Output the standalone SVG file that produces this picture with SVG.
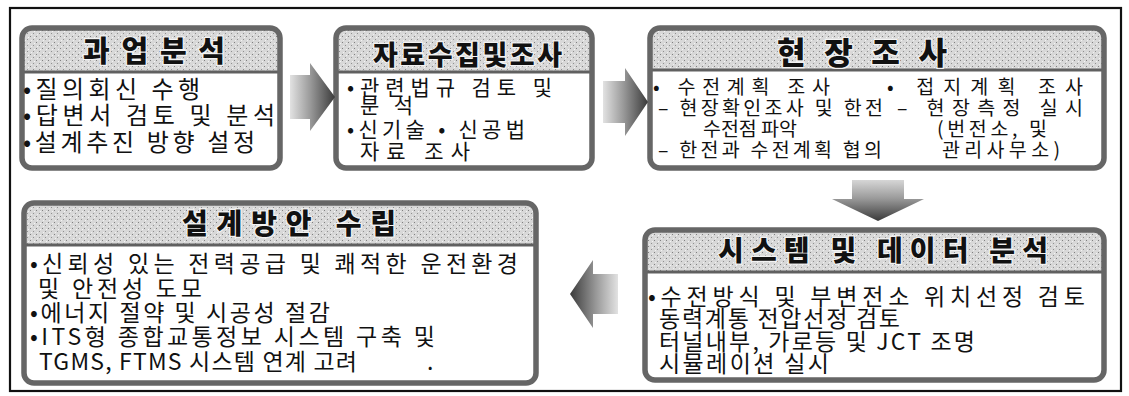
<svg xmlns="http://www.w3.org/2000/svg" width="1129" height="396" viewBox="0 0 1129 396">
<defs>
<pattern id="tex" width="6" height="6" patternUnits="userSpaceOnUse">
<rect width="6" height="6" fill="#d8d8d8"/>
<rect x="0" y="0" width="1" height="1" fill="#808080"/>
<rect x="3" y="3" width="1" height="1" fill="#909090"/>
<rect x="4" y="1" width="1" height="1" fill="#f4f4f4"/>
<rect x="1" y="4" width="1" height="1" fill="#f0f0f0"/>
</pattern>
<linearGradient id="gR" x1="0" y1="0" x2="1" y2="0">
<stop offset="0" stop-color="#e2e2e2"/><stop offset="0.45" stop-color="#9a9a9a"/><stop offset="1" stop-color="#3a3a3a"/>
</linearGradient>
<linearGradient id="gL" x1="1" y1="0" x2="0" y2="0">
<stop offset="0" stop-color="#e2e2e2"/><stop offset="0.45" stop-color="#9a9a9a"/><stop offset="1" stop-color="#3a3a3a"/>
</linearGradient>
<linearGradient id="gD" x1="0" y1="0" x2="0" y2="1">
<stop offset="0" stop-color="#d6d6d6"/><stop offset="0.45" stop-color="#9a9a9a"/><stop offset="1" stop-color="#3a3a3a"/>
</linearGradient>
</defs>
<style>
.frame{fill:none;stroke:#111;stroke-width:2.2}
.box{fill:#fff}
.bord{fill:none;stroke:#666;stroke-width:5.5}
.band{fill:url(#tex)}
.sep{stroke:#606060;stroke-width:3}
.t{font-family:"Noto Sans CJK KR","Noto Sans",sans-serif;font-weight:900;fill:#111;stroke:#f2f2f2;stroke-width:2.5;paint-order:stroke}
.b{font-family:"Noto Sans CJK KR","Noto Sans",sans-serif;font-weight:400;fill:#111}
</style>
<rect id="frame" class="frame" x="10" y="8" width="1111" height="383"/>

<g id="n1">
<rect class="box" x="22" y="28" width="258" height="140" rx="10"/>
<path class="band" d="M22,72 V38 Q22,28 32,28 H270 Q280,28 280,38 V72 Z"/>
<line class="sep" x1="22" y1="72" x2="280" y2="72"/>
<rect class="bord" x="22" y="28" width="258" height="140" rx="10"/>
<text class="t" x="83" y="62" font-size="29" textLength="142" lengthAdjust="spacing">과업분석</text>
<text class="b" font-size="24" x="23" y="98" textLength="177" lengthAdjust="spacing">•질의회신 수행</text>
<text class="b" font-size="24" x="23" y="124" textLength="252" lengthAdjust="spacing">•답변서 검토 및 분석</text>
<text class="b" font-size="24" x="23" y="151" textLength="232" lengthAdjust="spacing">•설계추진 방향 설정</text>
</g>

<g id="n2">
<rect class="box" x="336" y="28" width="256" height="140" rx="10"/>
<path class="band" d="M336,72 V38 Q336,28 346,28 H582 Q592,28 592,38 V72 Z"/>
<line class="sep" x1="336" y1="72" x2="592" y2="72"/>
<rect class="bord" x="336" y="28" width="256" height="140" rx="10"/>
<text class="t" x="373" y="65" font-size="27" textLength="189" lengthAdjust="spacing">자료수집및조사</text>
<text class="b" font-size="21" x="347" y="95" textLength="205" lengthAdjust="spacing">•관련법규 검토 및</text>
<text class="b" font-size="21" x="360" y="113" textLength="53" lengthAdjust="spacing">분석</text>
<text class="b" font-size="21" x="347" y="137" textLength="178" lengthAdjust="spacing">•신기술 • 신공법</text>
<text class="b" font-size="21" x="360" y="159" textLength="110" lengthAdjust="spacing">자료 조사</text>
</g>

<g id="n3">
<rect class="box" x="650" y="28" width="454" height="140" rx="10"/>
<path class="band" d="M650,70 V38 Q650,28 660,28 H1094 Q1104,28 1104,38 V70 Z"/>
<line class="sep" x1="650" y1="70" x2="1104" y2="70"/>
<rect class="bord" x="650" y="28" width="454" height="140" rx="10"/>
<text class="t" x="777" y="64" font-size="31" textLength="170" lengthAdjust="spacing">현장조사</text>
<text class="b" font-size="19.5" x="653" y="94" textLength="177" lengthAdjust="spacing">• 수전계획 조사</text>
<text class="b" font-size="19.5" x="887" y="94" textLength="196" lengthAdjust="spacing">• 접지계획 조사</text>
<text class="b" font-size="19.5" x="658" y="115" textLength="225" lengthAdjust="spacing">– 현장확인조사 및 한전</text>
<text class="b" font-size="19.5" x="897" y="115" textLength="186" lengthAdjust="spacing">– 현장측정 실시</text>
<text class="b" font-size="19.5" x="703" y="136" textLength="94" lengthAdjust="spacing">수전점 파악</text>
<text class="b" font-size="19.5" x="937" y="136" textLength="110" lengthAdjust="spacing">(번전소, 및</text>
<text class="b" font-size="19.5" x="658" y="157" textLength="224" lengthAdjust="spacing">– 한전과 수전계획 협의</text>
<text class="b" font-size="19.5" x="942" y="157" textLength="118" lengthAdjust="spacing">관리사무소)</text>
</g>

<g id="n4">
<rect class="box" x="24" y="203" width="512" height="180" rx="10"/>
<path class="band" d="M24,245 V213 Q24,203 34,203 H526 Q536,203 536,213 V245 Z"/>
<line class="sep" x1="24" y1="245" x2="536" y2="245"/>
<rect class="bord" x="24" y="203" width="512" height="180" rx="10"/>
<text class="t" x="182" y="234" font-size="28" textLength="214" lengthAdjust="spacing">설계방안 수립</text>
<text class="b" font-size="23" x="30" y="272" textLength="488" lengthAdjust="spacing">•신뢰성 있는 전력공급 및 쾌적한 운전환경</text>
<text class="b" font-size="23" x="38" y="297" textLength="164" lengthAdjust="spacing">및 안전성 도모</text>
<text class="b" font-size="23" x="30" y="321" textLength="300" lengthAdjust="spacing">•에너지 절약 및 시공성 절감</text>
<text class="b" font-size="23" x="30" y="345" textLength="405" lengthAdjust="spacing">•ITS형 종합교통정보 시스템 구축 및</text>
<text class="b" font-size="23" x="39" y="370" textLength="318" lengthAdjust="spacing">TGMS, FTMS 시스템 연계 고려</text>
<text class="b" font-size="23" x="427" y="370">.</text>
</g>

<g id="n5">
<rect class="box" x="645" y="230" width="459" height="150" rx="10"/>
<path class="band" d="M645,272 V240 Q645,230 655,230 H1094 Q1104,230 1104,240 V272 Z"/>
<line class="sep" x1="645" y1="272" x2="1104" y2="272"/>
<rect class="bord" x="645" y="230" width="459" height="150" rx="10"/>
<text class="t" x="718" y="261" font-size="28" textLength="330" lengthAdjust="spacing">시스템 및 데이터 분석</text>
<text class="b" font-size="23" x="648" y="305" textLength="437" lengthAdjust="spacing">•수전방식 및 부변전소 위치선정 검토</text>
<text class="b" font-size="23" x="659" y="327" textLength="241" lengthAdjust="spacing">동력계통 전압선정 검토</text>
<text class="b" font-size="23" x="659" y="350" textLength="316" lengthAdjust="spacing">터널내부, 가로등 및 JCT 조명</text>
<text class="b" font-size="23" x="659" y="372" textLength="170" lengthAdjust="spacing">시뮬레이션 실시</text>
</g>

<g id="connectors">
<polygon fill="url(#gR)" points="290,75 310,75 310,63 335,97 310,131 310,119 290,119"/>
<polygon fill="url(#gR)" points="603,81 625,81 625,68 648,102 625,136 625,123 603,123"/>
<polygon fill="url(#gD)" points="852,180 904,180 904,199 924,199 878,221 832,199 852,199"/>
<polygon fill="url(#gL)" points="618,274 593,274 593,260 570,294 593,328 593,314 618,314"/>
</g>
</svg>
